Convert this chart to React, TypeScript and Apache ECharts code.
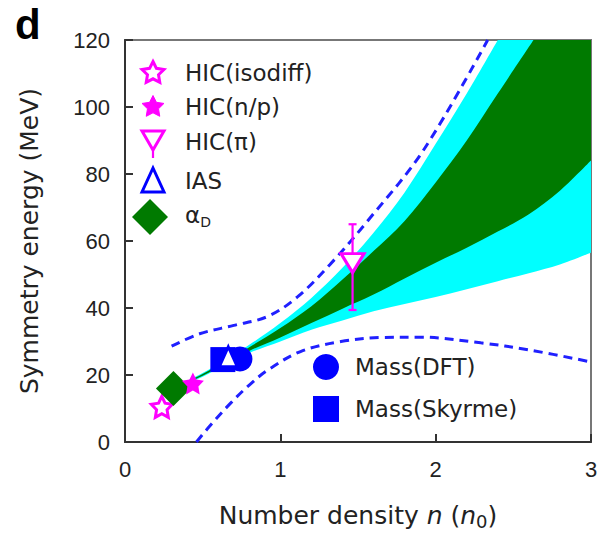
import React, { useEffect, useRef } from 'react';
import * as echarts from 'echarts';

// ---- axes ----
const X_MIN = 0;
const X_MAX = 3;
const X_STEP = 1;
const Y_MIN = 0;
const Y_MAX = 120;
const Y_STEP = 20;

// ---- constraint bands (n/n0, MeV) ----
const cyanUpper = [[0.3, 16], [0.5, 20.6], [0.65, 24.8], [0.8, 29], [1.0, 35.5], [1.2, 43], [1.4, 52], [1.6, 62.5], [1.8, 74.5], [2.0, 89], [2.2, 104], [2.4, 120]];
const cyanLower = [[0.3, 15.3], [0.5, 19.5], [0.65, 23.2], [0.8, 26.6], [1.0, 30], [1.2, 33.5], [1.4, 36.3], [1.6, 39], [1.8, 41.2], [2.0, 43.3], [2.2, 45.6], [2.4, 48], [2.6, 50.4], [2.8, 53], [3.0, 56.5]];
const greenUpper = [[0.3, 15.8], [0.5, 20.3], [0.65, 24.3], [0.8, 28.3], [1.0, 34], [1.2, 40.5], [1.4, 48.5], [1.6, 57], [1.8, 66], [2.0, 77.5], [2.2, 90], [2.4, 104], [2.63, 120]];
const greenLower = [[0.3, 15.5], [0.5, 19.8], [0.65, 23.6], [0.8, 27.2], [1.0, 31.2], [1.2, 35.5], [1.4, 39.8], [1.6, 44], [1.8, 48.8], [2.0, 53.5], [2.2, 58], [2.4, 62.8], [2.6, 68], [2.8, 75], [3.0, 84]];

// ---- dashed envelope ----
const dashedUpper = [[0.3, 28.6], [0.48, 32.3], [0.7, 34.8], [0.92, 37.5], [1.11, 43.3], [1.32, 53], [1.58, 67], [1.92, 87], [2.335, 120]];
const dashedLower = [[0.46, 0], [0.55, 5], [0.68, 11.6], [0.8, 17], [0.92, 21.5], [1.13, 27], [1.39, 30], [1.65, 31.2], [1.9, 31.3], [2.29, 29.6], [2.6, 27.5], [3.0, 23.9]];

// ---- measurements ----
const hicIsodiff = [[0.237, 10.5]];
const hicNp = [[0.437, 17.5]];
const alphaD = [[0.312, 16]];
const massSkyrme = [[0.63, 24.6]];
const massDft = [[0.74, 24.8]];
const ias = [[0.665, 25.4]];
const hicPi = [[1.465, 53.4]];
const hicPiErr = [[1.465, 39.4, 65]];

const FONT = "'DejaVu Sans', 'Liberation Sans', Arial, sans-serif";
const NUM_FONT = "'Liberation Sans', Arial, Helvetica, sans-serif";
const TEXT = '#222';
const MAGENTA = '#ff00ff';
const BLUE = '#0000ff';
const DASH_BLUE = '#2020ff';
const GREEN = '#007a00';
const CYAN = '#00ffff';

function starD(R: number, r: number): string {
  const pts: string[] = [];
  for (let i = 0; i < 10; i++) {
    const rad = i % 2 === 0 ? R : r;
    const a = (-90 + i * 36) * Math.PI / 180;
    pts.push(`${(rad * Math.cos(a)).toFixed(3)},${(rad * Math.sin(a)).toFixed(3)}`);
  }
  return 'M' + pts.join('L') + 'Z';
}
const STAR_SYMBOL = 'path://' + starD(10, 5);
const TRI_DOWN_SYMBOL = 'path://M-10,-8L10,-8L0,9Z';

echarts.graphic.registerShape('legendStar', echarts.graphic.extendPath(starD(11.5, 5.8), {}));

// Catmull-Rom spline through pixel points, emitted as cubic segments
function curve(p: number[][]): string {
  let d = '';
  for (let i = 0; i < p.length - 1; i++) {
    const p0 = p[i - 1] || p[i];
    const p1 = p[i];
    const p2 = p[i + 1];
    const p3 = p[i + 2] || p2;
    const c1 = [p1[0] + (p2[0] - p0[0]) / 6, p1[1] + (p2[1] - p0[1]) / 6];
    const c2 = [p2[0] - (p3[0] - p1[0]) / 6, p2[1] - (p3[1] - p1[1]) / 6];
    d += `C${c1[0]},${c1[1]} ${c2[0]},${c2[1]} ${p2[0]},${p2[1]}`;
  }
  return d;
}

function bandRenderer(upper: number[][], lower: number[][], color: string) {
  return (_params: any, api: any) => {
    const up = upper.map((v) => api.coord(v));
    const lo = lower.map((v) => api.coord(v)).reverse();
    let d = `M${up[0][0]},${up[0][1]}` + curve(up);
    const upEnd = upper[upper.length - 1];
    const loEnd = lower[lower.length - 1];
    if (upEnd[1] >= Y_MAX && loEnd[0] >= X_MAX) {
      const corner = api.coord([X_MAX, Y_MAX]);
      d += `L${corner[0]},${corner[1]}`;
    }
    d += `L${lo[0][0]},${lo[0][1]}` + curve(lo) + 'Z';
    return { type: 'path', shape: { pathData: d }, style: { fill: color } };
  };
}

function errorBarRenderer(_params: any, api: any) {
  const x = api.value(0);
  const top = api.coord([x, api.value(2)]);
  const bot = api.coord([x, api.value(1)]);
  const cap = 4;
  const st = { stroke: MAGENTA, lineWidth: 2.2 };
  return {
    type: 'group',
    children: [
      { type: 'line', shape: { x1: top[0], y1: top[1], x2: bot[0], y2: bot[1] }, style: st },
      { type: 'line', shape: { x1: top[0] - cap, y1: top[1], x2: top[0] + cap, y2: top[1] }, style: st },
      { type: 'line', shape: { x1: bot[0] - cap, y1: bot[1], x2: bot[0] + cap, y2: bot[1] }, style: st },
    ],
  };
}

const legendFont = { fontSize: 23, fontFamily: FONT, fill: TEXT, verticalAlign: 'middle' };

function legendText(x: number, y: number, text: string, rich?: any) {
  return { type: 'text', x, y, z: 100, style: { ...legendFont, text, rich } };
}

function buildLegend() {
  const mx = 153;
  const tx = 185;
  const items: any[] = [];
  // HIC(isodiff)
  items.push({ type: 'legendStar', x: mx, y: 73, z: 100, style: { fill: '#fff', stroke: MAGENTA, lineWidth: 3 } });
  items.push(legendText(tx, 73, 'HIC(isodiff)'));
  // HIC(n/p)
  items.push({ type: 'legendStar', x: mx, y: 107, z: 100, style: { fill: MAGENTA, stroke: MAGENTA, lineWidth: 1 } });
  items.push(legendText(tx, 107, 'HIC(n/p)'));
  // HIC(pi)
  items.push({ type: 'line', z: 100, shape: { x1: mx, y1: 146, x2: mx, y2: 158 }, style: { stroke: MAGENTA, lineWidth: 2.2 } });
  items.push({ type: 'polygon', z: 101, shape: { points: [[mx - 11, 131], [mx + 11, 131], [mx, 150]] }, style: { fill: '#fff', stroke: MAGENTA, lineWidth: 3 } });
  items.push(legendText(tx, 142, 'HIC(π)'));
  // IAS
  items.push({ type: 'polygon', z: 100, shape: { points: [[mx, 168], [mx + 11, 192], [mx - 11, 192]] }, style: { fill: '#fff', stroke: BLUE, lineWidth: 3 } });
  items.push(legendText(tx, 181, 'IAS'));
  // alpha_D
  items.push({ type: 'polygon', z: 100, shape: { points: [[mx - 3, 199], [mx + 15, 217], [mx - 3, 235], [mx - 21, 217]] }, style: { fill: GREEN } });
  items.push(legendText(tx, 215, '{a|α}{s|D}', {
    a: { fontSize: 23, fontFamily: FONT, fill: TEXT, lineHeight: 28 },
    s: { fontSize: 14, fontFamily: FONT, fill: TEXT, verticalAlign: 'bottom', lineHeight: 12 },
  }));
  // Mass models
  items.push({ type: 'circle', z: 100, shape: { cx: 326, cy: 367, r: 13 }, style: { fill: BLUE } });
  items.push(legendText(355, 367, 'Mass(DFT)'));
  items.push({ type: 'rect', z: 100, shape: { x: 313, y: 396, width: 26, height: 26 }, style: { fill: BLUE } });
  items.push(legendText(355, 409, 'Mass(Skyrme)'));
  return items;
}

export default function App() {
  const ref = useRef<HTMLDivElement>(null);

  useEffect(() => {
    if (!ref.current) return;
    const chart = echarts.init(ref.current, null, { renderer: 'svg' });
    const option: any = {
      animation: false,
      backgroundColor: '#fff',
      grid: {
        left: 125, right: 6, top: 40, bottom: 92,
        containLabel: false, outerBoundsMode: 'none',
        show: true, borderColor: '#777', borderWidth: 2,
      },
      xAxis: {
        type: 'value', min: X_MIN, max: X_MAX, interval: X_STEP,
        axisLine: { show: true, onZero: false, lineStyle: { color: '#333', width: 2 } },
        axisTick: { show: true, inside: true, length: 8, lineStyle: { color: '#333', width: 2 } },
        axisLabel: { fontSize: 22, color: TEXT, fontFamily: NUM_FONT, margin: 16 },
        splitLine: { show: false },
        name: '{r|Number density }{i|n}{r| (}{i|n}{s|0}{r|)}',
        nameLocation: 'middle',
        nameGap: 59,
        nameTextStyle: {
          color: TEXT, fontSize: 25, fontFamily: FONT,
          rich: {
            r: { fontSize: 25, fontFamily: FONT, color: TEXT, lineHeight: 29 },
            i: { fontSize: 25, fontFamily: FONT, color: TEXT, fontStyle: 'italic', lineHeight: 29 },
            s: { fontSize: 18, fontFamily: FONT, color: TEXT, verticalAlign: 'bottom', lineHeight: 18 },
          },
        },
      },
      yAxis: {
        type: 'value', min: Y_MIN, max: Y_MAX, interval: Y_STEP,
        axisLine: { show: true, onZero: false, lineStyle: { color: '#333', width: 2 } },
        axisTick: { show: true, inside: true, length: 8, lineStyle: { color: '#333', width: 2 } },
        axisLabel: { fontSize: 22, color: TEXT, fontFamily: NUM_FONT, margin: 15 },
        splitLine: { show: false },
        name: 'Symmetry energy (MeV)',
        nameLocation: 'middle',
        nameGap: 83,
        nameTextStyle: { color: TEXT, fontSize: 25, fontFamily: FONT },
      },
      graphic: [
        { type: 'text', x: 15, y: 3, z: 100, style: { text: 'd', fontSize: 42, fontWeight: 'bold', fontFamily: NUM_FONT, fill: '#000' } },
        ...buildLegend(),
      ],
      series: [
        { type: 'custom', name: 'band-outer', data: [[X_MIN, Y_MIN]], renderItem: bandRenderer(cyanUpper, cyanLower, CYAN), silent: true, z: 1 },
        { type: 'custom', name: 'band-inner', data: [[X_MIN, Y_MIN]], renderItem: bandRenderer(greenUpper, greenLower, GREEN), silent: true, z: 1 },
        { type: 'line', name: 'upper bound', data: dashedUpper, showSymbol: false, symbol: 'none', smooth: 0.35, lineStyle: { color: DASH_BLUE, width: 3, type: [9, 6] }, z: 3 },
        { type: 'line', name: 'lower bound', data: dashedLower, showSymbol: false, symbol: 'none', smooth: 0.35, lineStyle: { color: DASH_BLUE, width: 3, type: [9, 6] }, z: 3 },
        { type: 'scatter', name: 'HIC(isodiff)', data: hicIsodiff, symbol: STAR_SYMBOL, symbolSize: 21, itemStyle: { color: '#fff', borderColor: MAGENTA, borderWidth: 3, opacity: 1 }, z: 4 },
        { type: 'scatter', name: 'αD', data: alphaD, symbol: 'diamond', symbolSize: 35, itemStyle: { color: GREEN, opacity: 1 }, z: 4 },
        { type: 'scatter', name: 'HIC(n/p)', data: hicNp, symbol: STAR_SYMBOL, symbolSize: 22, itemStyle: { color: MAGENTA, opacity: 1 }, z: 4 },
        { type: 'scatter', name: 'Mass(Skyrme)', data: massSkyrme, symbol: 'rect', symbolSize: 25, itemStyle: { color: BLUE, opacity: 1 }, z: 4 },
        { type: 'scatter', name: 'Mass(DFT)', data: massDft, symbol: 'circle', symbolSize: 25, itemStyle: { color: BLUE, opacity: 1 }, z: 4 },
        { type: 'scatter', name: 'IAS', data: ias, symbol: 'triangle', symbolSize: [18, 20], itemStyle: { color: '#fff', borderColor: BLUE, borderWidth: 3, opacity: 1 }, z: 5 },
        { type: 'custom', name: 'HIC(π) error', data: hicPiErr, encode: { x: 0, y: [1, 2] }, renderItem: errorBarRenderer, z: 5 },
        { type: 'scatter', name: 'HIC(π)', data: hicPi, symbol: TRI_DOWN_SYMBOL, symbolSize: [23, 19], itemStyle: { color: '#fff', borderColor: MAGENTA, borderWidth: 3, opacity: 1 }, z: 6 },
      ],
    };
    chart.setOption(option);
    return () => chart.dispose();
  }, []);

  return <div ref={ref} style={{ position: 'fixed', left: 0, top: 0, width: 597, height: 534 }} />;
}
